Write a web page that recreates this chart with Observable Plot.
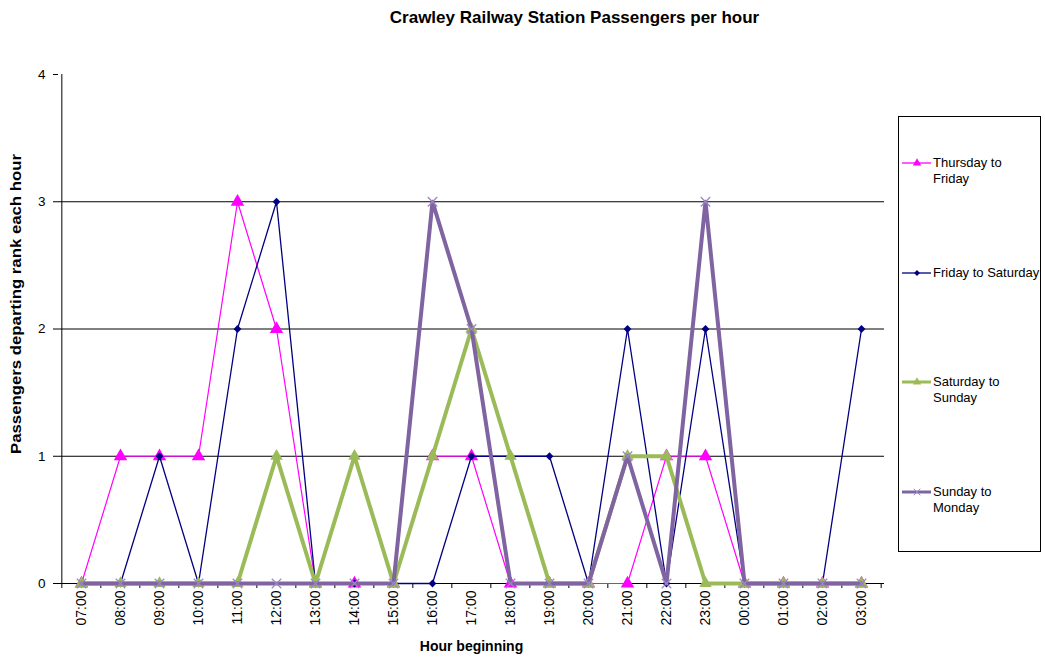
<!DOCTYPE html>
<html>
<head>
<meta charset="utf-8">
<script src="https://cdn.jsdelivr.net/npm/d3@7"></script>
<script src="https://cdn.jsdelivr.net/npm/@observablehq/plot@0.6"></script>
<style>
  body { margin: 0; background: #fff; font-family: "Liberation Sans", Arial, sans-serif; }
  #wrap { position: relative; width: 1045px; height: 657px; }
  #legend {
    position: absolute; left: 898px; top: 116px; width: 143px; height: 436px;
    border: 1px solid #000; box-sizing: border-box; background: #fff;
    font-size: 13px; line-height: 16px; color: #000;
  }
  .item { position: absolute; left: 3px; display: flex; align-items: flex-start; }
  .item svg { flex: none; }
  .item span { margin-left: 1px; white-space: nowrap; }
</style>
</head>
<body>
<div id="wrap">
  <div id="chart"></div>
  <div id="legend"></div>
</div>
<script>
// Hour of departure (columns of the table)
const hours = ["07:00", "08:00", "09:00", "10:00", "11:00", "12:00", "13:00", "14:00", "15:00", "16:00",
               "17:00", "18:00", "19:00", "20:00", "21:00", "22:00", "23:00", "00:00", "01:00", "02:00", "03:00"];

// Passengers departing the rank in each hour, one list per night
const thursdayToFriday = [0, 1, 1, 1, 3, 2, 0, 0, 0, 1, 1, 0, 0, 0, 0, 1, 1, 0, 0, 0, 0];
const fridayToSaturday = [0, 0, 1, 0, 2, 3, 0, 0, 0, 0, 1, 1, 1, 0, 2, 0, 2, 0, 0, 0, 2];
const saturdayToSunday = [0, 0, 0, 0, 0, 1, 0, 1, 0, 1, 2, 1, 0, 0, 1, 1, 0, 0, 0, 0, 0];
const sundayToMonday   = [0, 0, 0, 0, 0, 0, 0, 0, 0, 3, 2, 0, 0, 0, 1, 0, 3, 0, 0, 0, 0];

const yTicks = [0, 1, 2, 3, 4];

const series = [
  {name: "Thursday to Friday", lines: ["Thursday to", "Friday"], values: thursdayToFriday,
   stroke: "#FF00FF", width: 1.2, symbol: "triangle", r: 5, fill: "#FF00FF", mstroke: "none"},
  {name: "Friday to Saturday", lines: ["Friday to Saturday"], values: fridayToSaturday,
   stroke: "#000080", width: 1.3, symbol: "diamond2", r: 3.5, fill: "#000080", mstroke: "none"},
  {name: "Saturday to Sunday", lines: ["Saturday to", "Sunday"], values: saturdayToSunday,
   stroke: "#9BBB59", width: 4, symbol: "triangle", r: 4.6, fill: "#9BBB59", mstroke: "none"},
  {name: "Sunday to Monday", lines: ["Sunday to", "Monday"], values: sundayToMonday,
   stroke: "#8064A2", width: 4, symbol: "times", r: 4.4, fill: "none", mstroke: "#9A86C2"}
];

const W = 1045, H = 657;
const mL = 58, mR = 161, mT = 74, mB = 74;
const step = (W - mL - mR) / hours.length;   // width of one hour slot

const marks = [
  // horizontal gridlines
  Plot.ruleY(yTicks.filter(v => v > 0 && v < 4), {stroke: "#000", strokeWidth: 1}),
  // y axis
  Plot.axisY(yTicks, {tickSize: 5, tickPadding: 8, fontSize: 13.5, tickFormat: d3.format("d"), label: null}),
  // x axis: labels centred under each hour, ticks on slot boundaries
  Plot.axisX(hours, {tickSize: 0, tickPadding: 7, tickRotate: -90, fontSize: 14, label: null}),
  Plot.ruleX(hours, {x: d => d, y1: 0, y2: 0, insetBottom: -5, dx: -step / 2, stroke: "#000"}),
  Plot.ruleX(hours.slice(-1), {x: d => d, y1: 0, y2: 0, insetBottom: -5, dx: step / 2, stroke: "#000"}),
  // axis lines
  Plot.ruleY([0], {stroke: "#000"}),
  Plot.ruleX(hours.slice(0, 1), {x: d => d, y1: 0, y2: 4, dx: -step / 2, stroke: "#000"}),
  // titles
  Plot.text(["Crawley Railway Station Passengers per hour"],
    {frameAnchor: "top", lineAnchor: "middle", textAnchor: "middle", dx: 103, dy: -57,
     fontSize: 17, fontWeight: "bold", fill: "#000"}),
  Plot.text(["Passengers departing rank each hour"],
    {frameAnchor: "left", lineAnchor: "middle", textAnchor: "middle", dx: -42, dy: -25, rotate: -90,
     fontSize: 14, fontWeight: "bold", fill: "#000", className: "ylabel"}),
  Plot.text(["Hour beginning"],
    {frameAnchor: "bottom", lineAnchor: "middle", textAnchor: "middle", dy: 63,
     fontSize: 14, fontWeight: "bold", fill: "#000"})
];

for (const s of series) {
  const rows = hours.map((h, i) => ({hour: h, value: s.values[i]}));
  marks.push(Plot.line(rows, {x: "hour", y: "value", stroke: s.stroke, strokeWidth: s.width}));
  marks.push(Plot.dot(rows, {x: "hour", y: "value", symbol: s.symbol, r: s.r,
    fill: s.fill, stroke: s.mstroke, strokeWidth: 1.2}));
}

const chart = Plot.plot({
  width: W, height: H,
  marginLeft: mL, marginRight: mR, marginTop: mT, marginBottom: mB,
  style: {fontFamily: "Liberation Sans, Arial, sans-serif", color: "#000", background: "#fff"},
  x: {type: "point", domain: hours, padding: 0.5, align: 0.5},
  y: {domain: [0, 4]},
  marks
});
// the vertical axis title is drawn tall and narrow
d3.select(chart).selectAll("g.ylabel text")
  .attr("textLength", 300).attr("lengthAdjust", "spacingAndGlyphs");
document.getElementById("chart").appendChild(chart);

// Legend
const legend = document.getElementById("legend");
const tops = [38, 148, 257, 367];
series.forEach((s, i) => {
  const item = document.createElement("div");
  item.className = "item";
  item.style.top = tops[i] + "px";
  const sw = d3.create("svg").attr("width", 30).attr("height", 16);
  sw.append("line").attr("x1", 0).attr("x2", 29).attr("y1", 8).attr("y2", 8)
    .attr("stroke", s.stroke).attr("stroke-width", s.width >= 3 ? 3 : 1.3);
  const sym = {triangle: d3.symbolTriangle, diamond2: d3.symbolDiamond2, times: d3.symbolTimes}[s.symbol];
  sw.append("path").attr("transform", "translate(15,8)")
    .attr("d", d3.symbol(sym, s.symbol === "diamond2" ? 22 : 30)())
    .attr("fill", s.fill).attr("stroke", s.mstroke).attr("stroke-width", 1);
  item.appendChild(sw.node());
  const label = document.createElement("span");
  label.innerHTML = s.lines.join("<br>");
  item.appendChild(label);
  legend.appendChild(item);
});
</script>
</body>
</html>
